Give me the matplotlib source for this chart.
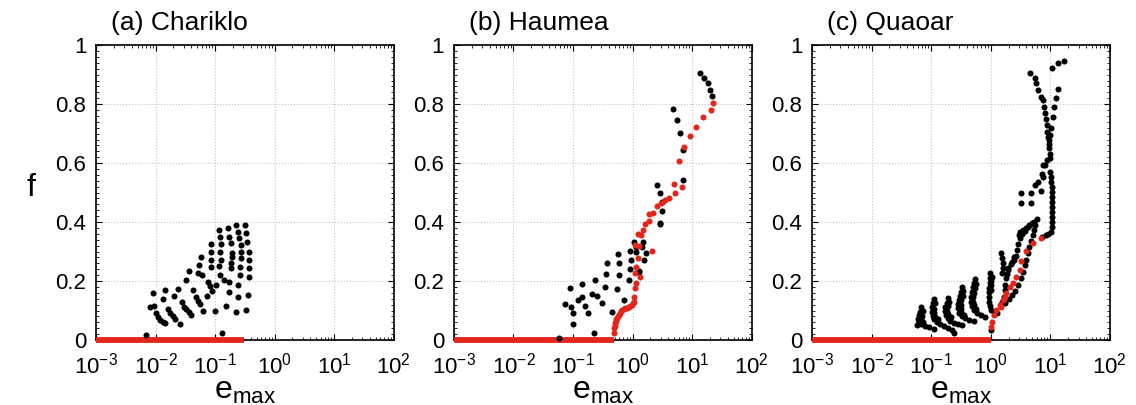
import matplotlib
matplotlib.use('Agg')
import matplotlib.pyplot as plt
import numpy as np
from matplotlib.ticker import FixedLocator, LogLocator, MultipleLocator, NullFormatter

plt.rcParams['font.family'] = ['Liberation Sans', 'DejaVu Sans']
plt.rcParams['mathtext.default'] = 'regular'

titles = ['(a) Chariklo', '(b) Haumea', '(c) Quaoar']
xtick_vals = [1e-3, 1e-2, 1e-1, 1e0, 1e1, 1e2]
xtick_labels = [r'$10^{-3}$', r'$10^{-2}$', r'$10^{-1}$', r'$10^{0}$', r'$10^{1}$', r'$10^{2}$']
ytick_vals = [0, 0.2, 0.4, 0.6, 0.8, 1]
ytick_labels = ['0', '0.2', '0.4', '0.6', '0.8', '1']

# values: log10(e_max) and f
a_black_loge = [-2.167, -2.044, -2.100, -2.033, -2.000, -1.961, -1.922, -1.878, -1.833,
                -1.833, -1.867, -1.794, -1.756, -1.711, -1.667, -1.589, -1.628, -1.683,
                -1.556, -1.517, -1.489, -1.444, -1.406, -1.444, -1.489, -1.378, -1.322,
                -1.289, -1.256, -1.194, -1.239, -1.267, -1.278, -1.211, -1.111, -1.089,
                -1.056, -1.128, -1.000, -1.072, -1.072, -1.072, -1.072, -0.933, -0.850,
                -0.878, -0.933, -0.922, -0.906, -0.917, -0.906, -0.917, -0.978, -0.811,
                -0.778, -0.767, -0.739, -0.722, -0.711, -0.739, -0.739, -0.767, -0.767,
                -0.656, -0.611, -0.600, -0.572, -0.572, -0.572, -0.589, -0.589, -0.611,
                -0.611, -0.656, -0.500, -0.478, -0.461, -0.433, -0.433, -0.433, -0.433,
                -0.444, -0.478]
a_black_f = [0.017, 0.160, 0.113, 0.115, 0.090, 0.077, 0.068, 0.062, 0.056,
             0.169, 0.138, 0.104, 0.090, 0.081, 0.070, 0.054, 0.172, 0.149,
             0.130, 0.113, 0.104, 0.095, 0.085, 0.235, 0.203, 0.169, 0.147,
             0.133, 0.121, 0.099, 0.282, 0.254, 0.226, 0.219, 0.198, 0.183,
             0.167, 0.149, 0.099, 0.325, 0.299, 0.273, 0.249, 0.251, 0.203,
             0.023, 0.373, 0.350, 0.325, 0.299, 0.271, 0.220, 0.186, 0.115,
             0.379, 0.350, 0.328, 0.294, 0.282, 0.260, 0.243, 0.198, 0.164,
             0.390, 0.367, 0.345, 0.322, 0.299, 0.277, 0.249, 0.220, 0.186,
             0.145, 0.096, 0.390, 0.362, 0.333, 0.299, 0.271, 0.243, 0.215,
             0.153, 0.102]
a_red_loge = []
a_red_f = []
a_red_zero = [1e-3, 0.31]

b_black_loge = [-1.058, -1.131, -1.036, -1.002, -1.008, -0.918, -0.851, -0.851, -0.806,
                -0.755, -0.682, -0.598, -0.637, -0.643, -0.514, -0.458, -0.441, -0.430,
                -0.345, -0.261, -0.233, -0.233, -0.244, -0.149, -0.065, -0.037, -0.026,
                -0.048, 0.160, 0.176, 0.221, 0.199, 0.103, 0.457, -1.24,
                1.141, 1.209, 1.265, 1.299, 1.338, 0.681, 0.749, 0.805, 0.844, 0.850,
                0.412, 0.468, 0.496, 0.496, 0.457, 0.019, 0.058, 0.064, 0.103]
b_black_f = [0.175, 0.121, 0.113, 0.093, 0.054, 0.136, 0.145, 0.189, 0.115,
             0.093, 0.156, 0.150, 0.203, 0.023, 0.124, 0.179, 0.224, 0.262,
             0.096, 0.172, 0.220, 0.260, 0.292, 0.136, 0.203, 0.240, 0.273,
             0.302, 0.316, 0.333, 0.296, 0.271, 0.232, 0.395, 0.008,
             0.906, 0.887, 0.870, 0.847, 0.827, 0.783, 0.746, 0.701, 0.644, 0.542,
             0.525, 0.499, 0.469, 0.437, 0.398, 0.333, 0.316, 0.299, 0.235]
b_red_loge = [1.355, 1.310, 1.186, 1.074, 0.962, 0.861, 0.777, 0.693, 0.833, 0.721,
              0.608, 0.552, 0.485, 0.412, 0.345, 0.272, 0.272, 0.216, 0.177, 0.143,
              0.087, 0.047, 0.103, 0.328, 0.087, 0.064, 0.120, 0.047, 0.064, 0.036,
              0.019, 0.019, -0.009, -0.065, -0.121, -0.177, -0.216, -0.250, -0.273,
              -0.290, -0.306, -0.306, -0.300, -0.282, -0.262, -0.235, -0.195, -0.150,
              -0.095, -0.035, 0.005]
b_red_f = [0.805, 0.780, 0.755, 0.723, 0.692, 0.655, 0.608, 0.529, 0.520, 0.499,
           0.480, 0.475, 0.463, 0.454, 0.432, 0.429, 0.405, 0.395, 0.373, 0.356,
           0.359, 0.322, 0.319, 0.303, 0.278, 0.249, 0.212, 0.228, 0.192, 0.175,
           0.147, 0.130, 0.119, 0.113, 0.107, 0.102, 0.093, 0.081, 0.070,
           0.056, 0.040, 0.023, 0.048, 0.063, 0.076, 0.086, 0.097, 0.104,
           0.110, 0.116, 0.125]
b_red_zero = [1e-3, 0.49]

c_black_loge = [
    # low-e arcs
    -1.161, -1.184, -1.200, -1.218, -1.229, -1.200, -1.161, -1.105, -1.032, -0.958,
    -1.140, -1.160, -1.170, -1.140,
    -0.947, -0.964, -0.986, -0.992, -0.975, -0.947, -0.902, -0.845, -0.778, -0.710, -0.654, -0.620,
    -0.930, -0.950, -0.955, -0.930, -0.880,
    -0.721, -0.738, -0.761, -0.766, -0.750, -0.721, -0.676, -0.609, -0.541, -0.485,
    -0.700, -0.720, -0.730, -0.715, -0.670,
    -0.485, -0.496, -0.507, -0.524, -0.541, -0.541, -0.524, -0.485, -0.428, -0.355, -0.281,
    -0.460, -0.470, -0.490, -0.500, -0.505, -0.490, -0.450,
    -0.270, -0.281, -0.298, -0.315, -0.326, -0.326, -0.315, -0.281, -0.225, -0.157, -0.090,
    -0.250, -0.265, -0.280, -0.290, -0.290, -0.280, -0.250,
    -0.010, -0.010, -0.015, -0.020, -0.025, -0.025, -0.020, -0.010, 0.010, 0.050, 0.100, 0.000,
    0.020, 0.015, 0.010, 0.005,
    # loop between e ~ 1.5 and 6
    0.198, 0.226, 0.237, 0.249, 0.266, 0.294, 0.339, 0.395, 0.435, 0.452, 0.463, 0.491,
    0.531, 0.576, 0.632, 0.689, 0.734, 0.773,
    0.745, 0.728, 0.706, 0.677, 0.649, 0.621, 0.598, 0.576, 0.548, 0.508, 0.463, 0.418,
    0.362, 0.305, 0.249,
    0.470, 0.500, 0.550, 0.600, 0.650, 0.700, 0.400, 0.360, 0.300, 0.280,
    0.181, 0.192, 0.204, 0.204, 0.192,
    0.860, 0.930, 0.971, 1.016,
    # column near e ~ 10
    1.027, 1.027, 1.027, 1.027, 1.027, 1.027, 1.027, 1.027, 1.027, 1.021, 1.010, 0.993,
    # scattered upper middle
    0.508, 0.508, 0.677, 0.677, 0.745, 0.801, 0.847, 0.886, 0.869, 0.914, 0.886, 0.943,
    # upper left branch
    0.660, 0.745, 0.762, 0.801, 0.846, 0.886, 0.903, 0.920, 0.931, 0.943, 0.954, 0.965,
    0.982, 0.982, 0.982, 0.990, 0.999,
    # upper right branch
    1.038, 1.140, 1.225, 1.140, 1.100, 1.072, 1.044, 1.016, 1.000]
c_black_f = [
    0.111, 0.096, 0.085, 0.071, 0.051, 0.062, 0.054, 0.047, 0.043, 0.038,
    0.100, 0.083, 0.070, 0.060,
    0.138, 0.124, 0.111, 0.096, 0.081, 0.070, 0.062, 0.054, 0.047, 0.040, 0.034, 0.025,
    0.125, 0.105, 0.090, 0.078, 0.070,
    0.141, 0.127, 0.113, 0.099, 0.085, 0.073, 0.066, 0.059, 0.054, 0.050,
    0.130, 0.115, 0.100, 0.088, 0.078,
    0.179, 0.164, 0.149, 0.136, 0.122, 0.107, 0.093, 0.081, 0.073, 0.068, 0.063,
    0.165, 0.150, 0.135, 0.120, 0.105, 0.095, 0.085,
    0.206, 0.192, 0.179, 0.164, 0.147, 0.130, 0.115, 0.102, 0.093, 0.085, 0.079,
    0.190, 0.175, 0.160, 0.145, 0.130, 0.118, 0.105,
    0.226, 0.210, 0.194, 0.178, 0.162, 0.146, 0.130, 0.115, 0.102, 0.095, 0.090, 0.034,
    0.215, 0.200, 0.185, 0.170,
    0.130, 0.147, 0.169, 0.186, 0.209, 0.237, 0.258, 0.271, 0.285, 0.305, 0.325, 0.345,
    0.359, 0.371, 0.382, 0.393, 0.401, 0.410,
    0.390, 0.373, 0.356, 0.337, 0.316, 0.294, 0.273, 0.254, 0.232, 0.209, 0.186, 0.167,
    0.153, 0.138, 0.127,
    0.355, 0.365, 0.372, 0.380, 0.390, 0.398, 0.280, 0.265, 0.245, 0.225,
    0.294, 0.277, 0.260, 0.243, 0.226,
    0.348, 0.355, 0.359, 0.367,
    0.384, 0.401, 0.418, 0.435, 0.452, 0.469, 0.486, 0.503, 0.520, 0.537, 0.554, 0.571,
    0.497, 0.466, 0.463, 0.497, 0.525, 0.537, 0.506, 0.554, 0.563, 0.593, 0.593, 0.610,
    0.906, 0.887, 0.870, 0.847, 0.825, 0.814, 0.791, 0.770, 0.751, 0.729, 0.706, 0.690,
    0.678, 0.665, 0.650, 0.630, 0.616,
    0.924, 0.938, 0.946, 0.850, 0.821, 0.789, 0.757, 0.718, 0.695]
c_red_loge = [0.000, 0.030, 0.057, 0.096, 0.152, 0.180, 0.209, 0.237, 0.265, 0.322,
              0.378, 0.434, 0.490, 0.508, 0.587, 0.717, 0.846]
c_red_f = [0.045, 0.062, 0.085, 0.102, 0.119, 0.113, 0.136, 0.147, 0.158, 0.181,
           0.192, 0.215, 0.237, 0.269, 0.303, 0.330, 0.345]
c_red_zero = [1e-3, 1.02]

panels = [
    (a_black_loge, a_black_f, a_red_loge, a_red_f, a_red_zero),
    (b_black_loge, b_black_f, b_red_loge, b_red_f, b_red_zero),
    (c_black_loge, c_black_f, c_red_loge, c_red_f, c_red_zero),
]

red = '#e2261c'
fig = plt.figure(figsize=(11.36, 4.05), dpi=100)
lefts = [0.0845, 0.3996, 0.7148]

for i, (bl, bf, rl, rf, rz) in enumerate(panels):
    ax = fig.add_axes([lefts[i], 0.1605, 0.262, 0.728])
    ax.set_xscale('log')
    ax.set_xlim(1e-3, 1e2)
    ax.set_ylim(0, 1)

    ax.plot(rz, [0, 0], color=red, lw=4.2, solid_capstyle='butt', clip_on=False, zorder=3)
    ax.scatter(10 ** np.array(bl), bf, s=19, color='black', linewidths=0, zorder=4, clip_on=False)
    if len(rl):
        ax.scatter(10 ** np.array(rl), rf, s=19, color=red, linewidths=0, zorder=5)

    ax.xaxis.set_major_locator(FixedLocator(xtick_vals))
    ax.set_xticklabels(xtick_labels)
    ax.xaxis.set_minor_locator(LogLocator(base=10, subs=np.arange(2, 10), numticks=20))
    ax.xaxis.set_minor_formatter(NullFormatter())
    ax.yaxis.set_major_locator(FixedLocator(ytick_vals))
    ax.set_yticklabels(ytick_labels)
    ax.yaxis.set_minor_locator(MultipleLocator(0.02))

    ax.tick_params(which='both', direction='in', top=True, right=True, labelsize=16)
    ax.tick_params(axis='x', which='major', pad=9)
    ax.tick_params(axis='y', which='major', pad=7)
    ax.tick_params(which='major', length=4, width=0.8)
    ax.tick_params(which='minor', length=2, width=0.6)
    ax.grid(True, which='major', ls=':', color='#c4c4c4', lw=0.8)
    for sp in ax.spines.values():
        sp.set_linewidth(1.2)

    ax.set_xlabel(r'$e_{max}$', fontsize=23, labelpad=-2)
    ax.text(0.05, 1.05, titles[i], transform=ax.transAxes, fontsize=19, ha='left', va='baseline')

fig.text(0.027, 0.535, 'f', fontsize=23, ha='center', va='center')

fig.savefig('out.png', dpi=100)
